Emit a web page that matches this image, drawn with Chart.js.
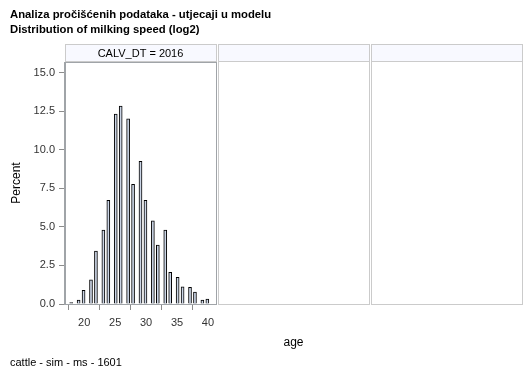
<!DOCTYPE html>
<html lang="hr">
<head>
    <meta charset="UTF-8">
    <title>Distribution of milking speed</title>
    <script src="https://cdn.jsdelivr.net/npm/chart.js"></script>
    <style>
        html, body { margin: 0; padding: 0; background: #fff; }
        canvas { display: block; }
    </style>
</head>
<body>
    <canvas id="histChart" width="529" height="378"></canvas>

    <script>
    // histogram bins (midpoints, width 0.4) and percent per bin
    const ageBins = [17.9, 19.1, 19.9, 21.1, 21.9, 23.1, 23.9, 25.1, 25.9, 27.1, 27.9, 29.1,
                     29.9, 31.1, 31.9, 33.1, 33.9, 35.1, 35.9, 37.1, 37.9, 39.1, 39.9];
    const percentValues = [0.09, 0.26, 0.89, 1.56, 3.44, 4.8, 6.73, 12.32, 12.84, 12.01, 7.77, 9.26,
                           6.73, 5.39, 3.83, 4.8, 2.06, 1.73, 1.12, 1.08, 0.78, 0.26, 0.32];
    const xTicks = [20, 25, 30, 35, 40];
    const yTicks = [0, 2.5, 5, 7.5, 10, 12.5, 15];
    const panelLabels = ['CALV_DT = 2016', '', ''];
    const titleLines = ['Analiza pročišćenih podataka - utjecaji u modelu', 'Distribution of milking speed (log2)'];
    const footnote = 'cattle - sim - ms - 1601';

    const FONT = '"Liberation Sans", Arial, sans-serif';

    const panelPlugin = {
        id: 'panels',
        beforeDraw(chart) {
            const c = chart.ctx;
            const a = chart.chartArea;
            const w = a.right - a.left;
            c.save();
            for (let i = 0; i < panelLabels.length; i++) {
                const l = a.left + i * (w + 2);
                // header strip
                c.fillStyle = '#f8f9ff';
                c.fillRect(l, a.top - 17, w, 17);
                c.strokeStyle = '#cbcbcb';
                c.lineWidth = 1;
                c.strokeRect(l + 0.5, a.top - 17.5, w, 17);
                if (i > 0) {
                    c.strokeRect(l + 0.5, a.top - 0.5, w, a.bottom - a.top + 1);
                }
                c.fillStyle = '#000';
                c.font = '11px ' + FONT;
                c.textAlign = 'center';
                c.textBaseline = 'middle';
                c.fillText(panelLabels[i], l + w / 2, a.top - 8.5);
            }
            c.restore();
        },
        afterDraw(chart) {
            const c = chart.ctx;
            const a = chart.chartArea;
            const w = a.right - a.left;
            c.save();
            c.strokeStyle = '#a0a4a8';
            c.lineWidth = 1;
            c.strokeRect(a.left - 0.5, a.top + 0.5, w + 1, a.bottom - a.top);
            c.fillStyle = '#000';
            c.textBaseline = 'middle';
            c.textAlign = 'left';
            c.font = 'bold 11.3px ' + FONT;
            c.fillText(titleLines[0], 10, 15);
            c.fillText(titleLines[1], 10, 30);
            c.font = '11px ' + FONT;
            c.fillText(footnote, 10, 363);
            c.textAlign = 'center';
            c.font = '12px ' + FONT;
            const fullRight = a.left + 3 * w + 4;
            c.fillText('age', (a.left + fullRight) / 2, 343);
            c.restore();
        }
    };

    const ctx = document.getElementById('histChart').getContext('2d');
    const histChart = new Chart(ctx, {
        type: 'bar',
        data: {
            datasets: [{
                label: 'Percent',
                data: ageBins.map((x, i) => ({x: x, y: percentValues[i]})),
                backgroundColor: '#cbd5e6',
                borderColor: '#000',
                borderWidth: 1,
                borderSkipped: 'bottom',
                barThickness: 3
            }]
        },
        options: {
            responsive: false,
            animation: false,
            layout: {
                padding: {top: 62, right: 313, left: 0, bottom: 44}
            },
            plugins: {
                legend: {display: false},
                tooltip: {enabled: false}
            },
            scales: {
                x: {
                    type: 'linear',
                    offset: false,
                    min: 16.9,
                    max: 41.3,
                    afterBuildTicks: (s) => { s.ticks = xTicks.map(v => ({value: v})); },
                    afterFit: (s) => { s.height = 30; },
                    grid: {drawOnChartArea: false, tickLength: 6, color: '#8c8c8c'},
                    border: {color: '#a0a4a8'},
                    ticks: {
                        color: '#333',
                        font: {family: FONT, size: 11},
                        padding: 6,
                        maxRotation: 0
                    }
                },
                y: {
                    min: 0,
                    max: 15.7,
                    afterBuildTicks: (s) => { s.ticks = yTicks.map(v => ({value: v})); },
                    afterFit: (s) => { s.width = 65; },
                    grid: {drawOnChartArea: false, tickLength: 6, color: '#8c8c8c'},
                    border: {color: '#a0a4a8'},
                    ticks: {
                        color: '#333',
                        font: {family: FONT, size: 11},
                        padding: 4,
                        callback: (v) => Number(v).toFixed(1)
                    },
                    title: {
                        display: true,
                        text: 'Percent',
                        color: '#000',
                        font: {family: FONT, size: 12},
                        padding: {top: 9, bottom: 0}
                    }
                }
            }
        },
        plugins: [panelPlugin]
    });
    </script>
</body>
</html>
